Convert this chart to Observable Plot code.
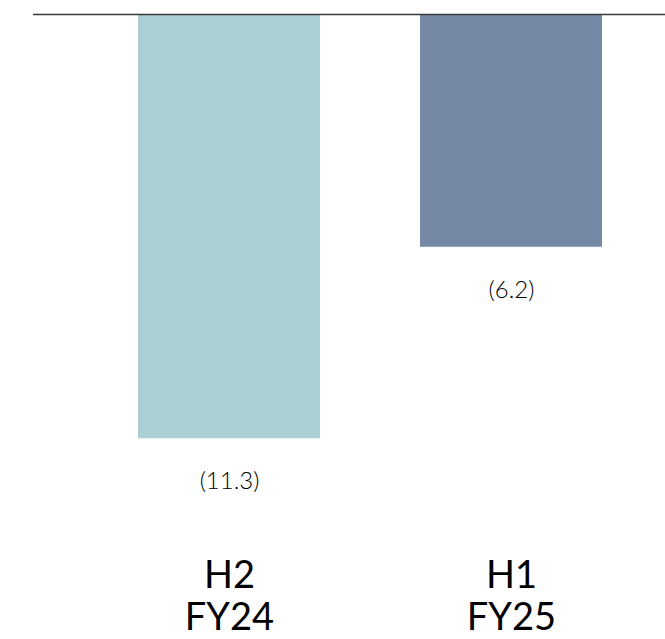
<!DOCTYPE html>
<html>
<head>
<meta charset="utf-8">
<script src="https://cdn.jsdelivr.net/npm/d3@7"></script>
<script src="https://cdn.jsdelivr.net/npm/@observablehq/plot@0.6"></script>
<style>
  html, body { margin: 0; padding: 0; background: #ffffff; }
  #chart svg { display: block; }
</style>
</head>
<body>
<div id="chart"></div>
<script>
const periods = ["H2\nFY24", "H1\nFY25"];
const values = [-11.3, -6.2];
const valueLabels = ["(11.3)", "(6.2)"];
const barColors = ["#aad0d5", "#7588a5"];

const data = periods.map((p, i) => ({period: p, value: values[i], label: valueLabels[i], color: barColors[i]}));

const chart = Plot.plot({
  width: 665,
  height: 639,
  marginTop: 14,
  marginBottom: 84,
  marginLeft: 33,
  marginRight: 0,
  style: {fontFamily: "Lato, 'Noto Sans', sans-serif", background: "#ffffff"},
  x: {domain: periods, paddingInner: 0.355, paddingOuter: 0.298, align: 0.625, axis: null},
  y: {domain: [-14.41, 0], axis: null},
  color: {type: "identity"},
  marks: [
    Plot.barY(data, {x: "period", y: "value", fill: "color"}),
    Plot.ruleY([0], {stroke: "#3a3a3a", strokeWidth: 1.4}),
    Plot.text(data, {x: "period", y: "value", text: "label", dy: 43, fontSize: 24, fontWeight: 300, fill: "#000000"}),
    Plot.text(data, {x: "period", frameAnchor: "bottom", text: "period", lineAnchor: "top", dy: 3, fontSize: 38, lineHeight: 1.1, fill: "#000000"})
  ]
});
document.getElementById("chart").appendChild(chart);
</script>
</body>
</html>
